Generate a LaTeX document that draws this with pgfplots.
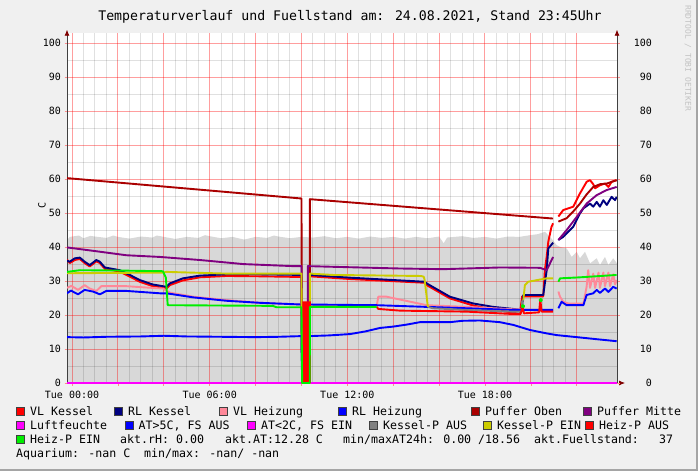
\documentclass[border=0pt]{standalone}
\usepackage{fontspec}
\setmainfont{DejaVu Sans Mono}
\usepackage{pgfplots}
\pgfplotsset{compat=1.18}
\usetikzlibrary{arrows.meta}
\definecolor{canvas}{RGB}{240,240,240}
\definecolor{frame}{RGB}{165,165,165}
\definecolor{axisc}{RGB}{64,64,64}
\definecolor{arrowc}{RGB}{128,0,0}
\definecolor{wm}{RGB}{195,195,195}
\definecolor{fuell}{RGB}{216,216,216}
\definecolor{cVLK}{RGB}{255,0,0}
\definecolor{cRLK}{RGB}{0,0,128}
\definecolor{cVLH}{RGB}{255,136,153}
\definecolor{cRLH}{RGB}{0,0,255}
\definecolor{cPO}{RGB}{170,0,0}
\definecolor{cPM}{RGB}{128,0,128}
\definecolor{cLF}{RGB}{255,0,255}
\definecolor{cAT}{RGB}{0,0,255}
\definecolor{cATk}{RGB}{255,0,255}
\definecolor{cKA}{RGB}{128,128,128}
\definecolor{cKE}{RGB}{204,204,0}
\definecolor{cHA}{RGB}{255,0,0}
\definecolor{cHE}{RGB}{0,238,0}
\newcommand\legfont{\fontsize{11.6}{14}\selectfont}
\newcommand\legitem[4]{%
  \filldraw[fill=#3, draw=black!75, line width=0.5pt] (#1-13.5,#2-4) rectangle (#1-5.5,#2+4);
  \node[anchor=base west, inner sep=0, font=\legfont] at (#1,#2-4.2) {#4};}
\newcommand\legtext[3]{\node[anchor=base west, inner sep=0, font=\legfont] at (#1,#2-4.2) {#3};}
\tikzset{arrowline/.style={draw=axisc, line width=0.8pt, -{Latex[length=6pt,width=5pt,color=arrowc]}}}
\pgfplotsset{
  geom/.style={at={(67pt,88pt)}, anchor=south west,
    scale only axis, width=550pt, height=350.3pt,
    xmin=-0.22, xmax=23.755, ymin=0, ymax=103.1},
}
\begin{document}
\begin{tikzpicture}[x=1pt,y=1pt]
\fill[canvas] (0,0) rectangle (698,471);
\fill[frame] (695.5,0) rectangle (698,471);
\fill[frame] (0,0) rectangle (698,2.5);
\fill[white] (67,88) rectangle (617,438.3);
\node[font=\fontsize{13.2}{15}\selectfont] at (350,454) {Temperaturverlauf und Fuellstand am: 24.08.2021, Stand 23:45Uhr};
\node[rotate=-90, font=\fontsize{8}{9}\selectfont, text=wm, anchor=west, inner sep=0] at (688,466) {RRDTOOL / TOBI OETIKER};
\node[rotate=90, font=\fontsize{10}{12}\selectfont] at (42,266) {C};

% axis A: Fuellstand area (behind the grid)
\begin{axis}[geom, hide axis]
\addplot[fill=fuell, draw=none] coordinates {
(-0.22,42.0) (-0.1,43.0) (0.3,43.4) (0.5,42.6) (0.8,43.3) (1.0,43.1) (1.5,42.7) (1.8,43.4) (2.0,43.0) (2.5,42.5) (3.0,43.1) (3.5,42.8) (3.7,43.4) (4.0,43.0) (4.5,42.4) (5.0,43.0) (5.5,42.7) (5.8,43.5) (6.0,43.2) (6.5,42.6) (7.0,43.0) (7.5,42.2) (8.0,43.0) (8.5,42.7) (8.8,43.4) (9.0,43.1) (9.5,42.6) (10.0,43.0) (10.5,42.8) (11.0,43.2) (11.5,42.6) (12.0,43.0) (12.5,42.5) (13.0,43.1) (13.5,42.7) (14.0,43.0) (14.5,42.5) (15.0,43.0) (15.5,42.6) (16.0,43.1) (16.2,41.1) (16.35,42.8) (17.0,43.2) (17.5,42.7) (18.0,43.0) (18.5,42.5) (19.0,43.1) (19.5,43.0) (19.96,43.5) (20.3,43.8) (20.61,44.5) (20.9,42.5) (21.12,40.6) (21.3,40.0) (21.56,39.6) (21.78,37.1) (22.0,38.6) (22.14,36.7) (22.36,38.6) (22.58,35.2) (22.87,36.7) (23.01,34.7) (23.23,37.1) (23.38,34.7) (23.59,36.7) (23.755,35.2)
} \closedcycle;
\end{axis}

% axis B: grid, left/bottom axes, data
\begin{axis}[
  geom,
  axis x line=bottom, axis y line=left,
  x axis line style={arrowline, shorten >=-8pt},
  y axis line style={arrowline, shorten >=-3pt},
  xtick={0,2,...,22}, minor x tick num=3,
  xticklabels={Tue 00:00,,,Tue 06:00,,,Tue 12:00,,,Tue 18:00,,},
  ytick={0,10,...,100}, minor y tick num=1,
  grid=both,
  major grid style={draw=red, opacity=0.38, line width=1pt},
  minor grid style={draw=black, opacity=0.12, line width=1pt},
  tick align=outside, major tick length=2.5pt, minor tick length=0pt,
  tick style={draw=red!45, line width=0.7pt},
  tick label style={font=\fontsize{10}{12}\selectfont},
  /pgf/number format/assume math mode=true,
  xticklabel style={yshift=-2pt},
  unbounded coords=jump,
  line join=round,
  every axis plot/.append style={line width=1.9pt},
]
% VL Kessel
\addplot[cVLK] coordinates {
(-0.22,36.3) (-0.10,35.3) (0.12,36.2) (0.34,36.5) (0.55,35.3) (0.77,34.3) (1.06,35.8) (1.21,35.3) (1.43,33.6) (2.08,32.8) (2.52,31.3) (2.95,29.8) (3.52,28.5) (4.12,27.8) (4.26,28.8) (4.83,30.2) (5.57,31.1) (6.73,31.5) (8.19,31.4) (10.00,31.2) (10.03,0) (10.36,0) (10.37,31.4) (12.12,30.6) (15.37,29.5) (15.46,28.8) (16.47,24.9) (17.49,22.8) (18.36,21.6) (19.23,20.7) (19.52,20.3) (19.62,25.5) (20.54,25.5) (20.61,33.2) (20.69,37.2) (20.76,41.6) (20.90,46.0) (20.97,47.0) (21.08,nan)
(21.20,49.0) (21.41,50.9) (21.85,51.9) (22.14,55.8) (22.43,59.2) (22.58,59.7) (22.72,58.5) (22.80,57.3) (23.01,58.2) (23.23,58.7) (23.38,57.7) (23.52,59.2) (23.74,59.7)
};
% RL Kessel
\addplot[cRLK] coordinates {
(-0.22,36.0) (-0.10,35.7) (0.12,36.7) (0.34,36.9) (0.55,35.7) (0.77,34.7) (1.06,36.2) (1.21,35.7) (1.43,34.0) (2.08,33.2) (2.52,31.8) (2.95,30.3) (3.52,29.0) (4.12,28.3) (4.26,29.3) (4.83,30.8) (5.57,31.6) (6.73,32.0) (8.19,32.0) (10.00,31.8) (10.03,0) (10.33,0) (10.37,31.8) (12.12,31.0) (15.37,29.8) (15.46,29.3) (16.47,25.4) (17.49,23.4) (18.36,22.4) (19.23,21.8) (19.60,21.5) (19.67,25.9) (20.54,25.9) (20.69,33.2) (20.76,39.6) (20.97,41.3) (21.08,nan)
(21.20,42.1) (21.41,43.0) (21.85,46.0) (22.14,49.9) (22.29,51.4) (22.58,52.8) (22.72,51.9) (22.87,53.3) (23.01,51.9) (23.16,53.8) (23.31,52.4) (23.52,54.8) (23.67,53.8) (23.74,54.8)
};
% VL Heizung
\addplot[cVLH] coordinates {
(-0.22,28.0) (-0.03,28.6) (0.26,27.4) (0.55,28.8) (0.77,27.8) (1.06,27.1) (1.28,28.5) (2.37,28.5) (3.24,28.1) (3.97,27.8) (4.26,26.6) (5.28,25.4) (6.73,24.4) (8.19,23.6) (10.00,23.1) (10.03,0) (10.36,0) (10.37,22.7) (13.28,22.7) (13.35,25.4) (13.71,25.4) (15.46,22.9) (17.20,22.4) (19.23,21.7) (20.97,21.4) (21.08,nan)
(21.20,26.9) (21.27,25.4) (21.41,23.9) (21.63,23.4) (22.29,23.4) (22.43,28.3) (22.50,33.2) (22.58,28.0) (22.72,32.2) (22.80,28.0) (22.95,32.5) (23.01,28.0) (23.16,32.5) (23.23,28.5) (23.38,32.5) (23.45,28.5) (23.59,32.0) (23.67,29.0) (23.74,30.3)
};
% RL Heizung
\addplot[cRLH] coordinates {
(-0.22,26.4) (-0.05,27.2) (0.26,26.1) (0.55,27.4) (0.92,26.9) (1.21,26.1) (1.50,27.1) (2.37,27.1) (3.83,26.4) (4.12,26.4) (5.28,25.2) (6.73,24.2) (8.19,23.6) (10.00,23.1) (10.03,0) (10.32,0) (10.33,23.1) (13.28,22.9) (17.20,22.0) (19.23,21.5) (20.97,21.5) (21.08,nan)
(21.20,22.0) (21.34,23.9) (21.56,22.9) (22.29,22.9) (22.43,25.9) (22.72,26.4) (22.87,27.4) (23.01,26.5) (23.23,27.8) (23.38,26.8) (23.59,28.3) (23.74,27.8)
};
% Puffer Oben
\addplot[cPO] coordinates {
(-0.22,60.3) (10.00,54.3) (10.03,0) (10.36,0) (10.37,54.1) (20.97,48.4) (21.08,nan)
(21.20,47.5) (21.56,48.5) (21.85,50.5) (22.14,52.8) (22.43,55.5) (22.72,57.7) (23.01,58.5) (23.31,58.7) (23.52,59.2) (23.74,59.7)
};
% Puffer Mitte
\addplot[cPM] coordinates {
(-0.22,39.9) (0.92,38.9) (2.37,37.6) (3.83,37.1) (5.57,36.2) (7.46,35.0) (9.64,34.4) (10.00,34.4) (10.03,0) (10.27,0) (10.28,34.4) (11.37,34.2) (14.29,33.7) (16.17,33.5) (18.65,34.0) (20.40,33.9) (20.69,33.2) (20.97,37.1) (21.08,nan)
(21.20,42.1) (21.56,45.0) (22.00,48.9) (22.43,52.8) (22.87,55.3) (23.31,56.8) (23.74,57.7)
};
% AT>5C
\addplot[cAT] coordinates {
(-0.22,13.5) (0.5,13.4) (1.5,13.6) (3.0,13.7) (4.0,13.9) (5.0,13.7) (6.5,13.6) (8.0,13.5) (9.0,13.6) (10.0,13.8) (10.03,0) (10.32,0) (10.33,13.8) (11.2,14.0) (12.12,14.4) (12.8,15.2) (13.42,16.2) (14.0,16.6) (14.6,17.2) (15.16,17.9) (16.47,17.9) (17.0,18.3) (17.78,18.4) (18.65,17.9) (19.23,17.1) (19.96,15.6) (20.69,14.6) (21.12,14.1) (22.14,13.4) (23.0,12.8) (23.74,12.3)
};
% Luftfeuchte / AT<2C
\addplot[cLF] coordinates {(-0.22,0) (23.755,0)};
% Kessel-P AUS
\addplot[cKA] coordinates {(15.51,22.4) (15.73,22.0) (17.2,21.5) (19.23,21.0) (19.60,21.0) (19.62,24.0) (19.67,24.4)};
% Kessel-P EIN
\addplot[cKE] coordinates {
(-0.22,32.3) (3.96,32.5) (4.12,32.7) (6.73,32.2) (10.00,32.2) (10.03,0) (10.36,0) (10.37,32.2) (11.37,31.8) (15.2,31.5) (15.33,31.3) (15.37,30.3) (15.44,26.4) (15.51,22.4) (15.55,nan)
(19.67,24.4) (19.74,28.8) (19.88,29.8) (20.69,30.8) (20.97,30.8)
};
% Heiz-P AUS
\addplot[fill=cHA, draw=none, line width=0pt] coordinates {(10.04,0) (10.04,24) (10.41,24) (10.41,0)} \closedcycle;
\addplot[cHA] coordinates {
(13.28,22.4) (13.35,21.8) (14.29,21.3) (17.20,21.0) (19.23,20.3) (19.55,20.3) (19.64,22.4) (19.70,20.5) (20.36,20.8) (20.41,24.6) (20.47,21.0) (20.97,21.0)
};
% Heiz-P EIN
\addplot[cHE] coordinates {
(-0.22,32.7) (0.34,33.2) (2.0,33.1) (3.96,32.9) (4.09,31.0) (4.17,22.9) (8.75,22.7) (8.91,22.3) (10.00,22.3) (10.03,0) (10.36,0) (10.37,22.4) (13.28,22.4) (13.30,nan)
(21.20,29.8) (21.27,30.8) (22.14,31.1) (23.74,31.8)
};
\addplot[only marks, mark=*, mark size=1.2pt, cHE] coordinates {(19.66,22.6) (20.43,24.4)};
\end{axis}

% axis C: right y axis with labels
\begin{axis}[
  geom,
  axis x line=none, axis y line*=right,
  y axis line style={arrowline, shorten >=-3pt},
  ytick={0,10,...,100},
  tick align=outside, major tick length=2.5pt,
  tick style={draw=red!45, line width=0.7pt},
  yticklabel style={font=\fontsize{10}{12}\selectfont, anchor=east, xshift=36pt},
  /pgf/number format/assume math mode=true,
]
\addplot[draw=none] coordinates {(0,0)};
\end{axis}

% legend
\legitem{30}{60}{cVLK}{VL Kessel}
\legitem{128}{60}{cRLK}{RL Kessel}
\legitem{233}{60}{cVLH}{VL Heizung}
\legitem{352}{60}{cRLH}{RL Heizung}
\legitem{485}{60}{cPO}{Puffer Oben}
\legitem{597}{60}{cPM}{Puffer Mitte}
\legitem{30}{46}{cLF}{Luftfeuchte}
\legitem{138.5}{46}{cAT}{AT>5C, FS AUS}
\legitem{261}{46}{cATk}{AT<2C, FS EIN}
\legitem{383}{46}{cKA}{Kessel-P AUS}
\legitem{497}{46}{cKE}{Kessel-P EIN}
\legitem{599}{46}{cHA}{Heiz-P AUS}
\legitem{30}{32}{cHE}{Heiz-P EIN}
\legtext{120}{32}{akt.rH: 0.00}
\legtext{225}{32}{akt.AT:12.28 C}
\legtext{343}{32}{min/maxAT24h: 0.00 /18.56}
\legtext{534}{32}{akt.Fuellstand:}
\legtext{659}{32}{37}
\legtext{16}{18}{Aquarium: -nan C}
\legtext{144}{18}{min/max: -nan/ -nan}
\end{tikzpicture}
\end{document}
